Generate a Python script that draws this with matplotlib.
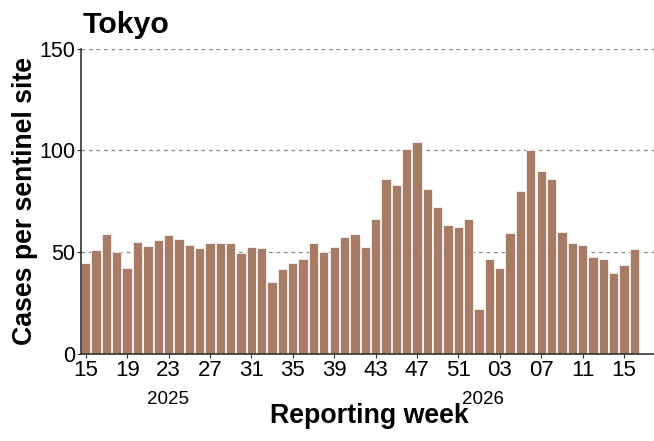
import numpy as np
import matplotlib.pyplot as plt

plt.rcParams['font.family'] = ['Liberation Sans', 'DejaVu Sans']

# weekly cases per sentinel site, Tokyo
weeks_2025 = list(range(15, 53))
weeks_2026 = list(range(1, 17))
cases_2025 = [44.6, 51.1, 58.8, 50.0, 42.2, 54.9, 52.9, 56.0, 58.5, 56.5,
              53.6, 52.3, 54.4, 54.4, 54.7, 49.5, 52.7, 51.9, 35.3, 42.0,
              44.9, 46.6, 54.4, 50.1, 52.7, 57.7, 59.1, 52.4, 66.5, 86.1,
              83.0, 100.6, 103.9, 80.9, 72.2, 63.4, 62.5, 66.2]
cases_2026 = [22.2, 46.9, 42.2, 59.5, 79.9, 100.1, 89.9, 86.1, 59.8, 54.4,
              53.4, 47.8, 46.9, 39.9, 43.6, 51.8]

weeks = weeks_2025 + weeks_2026
cases = np.array(cases_2025 + cases_2026)
x = np.arange(len(weeks))

fig = plt.figure(figsize=(6.54, 4.41), dpi=100)
ax = fig.add_axes([0.124, 0.197, 0.876, 0.693])

ax.bar(x, cases, width=0.9, color='#a67c66', edgecolor='white', linewidth=0.5, zorder=2)

ax.set_ylim(0, 150)
ax.set_yticks([0, 50, 100, 150])
for yv in [50, 100, 150]:
    ax.axhline(yv, color='#888888', linestyle=(0, (3, 3)), linewidth=0.9, zorder=1)

ax.set_xlim(-0.45, 54.9)
tick_idx = x[::4]
ax.set_xticks(tick_idx)
ax.set_xticklabels([f"{weeks[i]:02d}" for i in tick_idx])
ax.tick_params(axis='x', labelsize=16, length=3, pad=1, color='#333333')
ax.tick_params(axis='y', labelsize=15.5, length=3, pad=1, color='#333333')

for s in ['top', 'right']:
    ax.spines[s].set_visible(False)
ax.spines['left'].set_color('#333333')
ax.spines['bottom'].set_color('#333333')
ax.spines['left'].set_linewidth(1.2)
ax.spines['bottom'].set_linewidth(1.2)

# year labels under the week ticks
ax.text(7.9, -22.5, "2025", ha='center', va='center', fontsize=13.5)
ax.text(38.4, -22.5, "2026", ha='center', va='center', fontsize=13.5)

fig.text(369 / 654, 1 - 423 / 441, "Reporting week", ha='center', va='baseline',
         fontsize=19.3, fontweight='bold')
ax.set_ylabel("Cases per sentinel site", fontsize=19.2, fontweight='bold', labelpad=1)
fig.text(83 / 654, 1 - 25 / 441, "Tokyo", ha='left', va='center',
         fontsize=21.8, fontweight='bold')

fig.savefig("out.png", dpi=100)
